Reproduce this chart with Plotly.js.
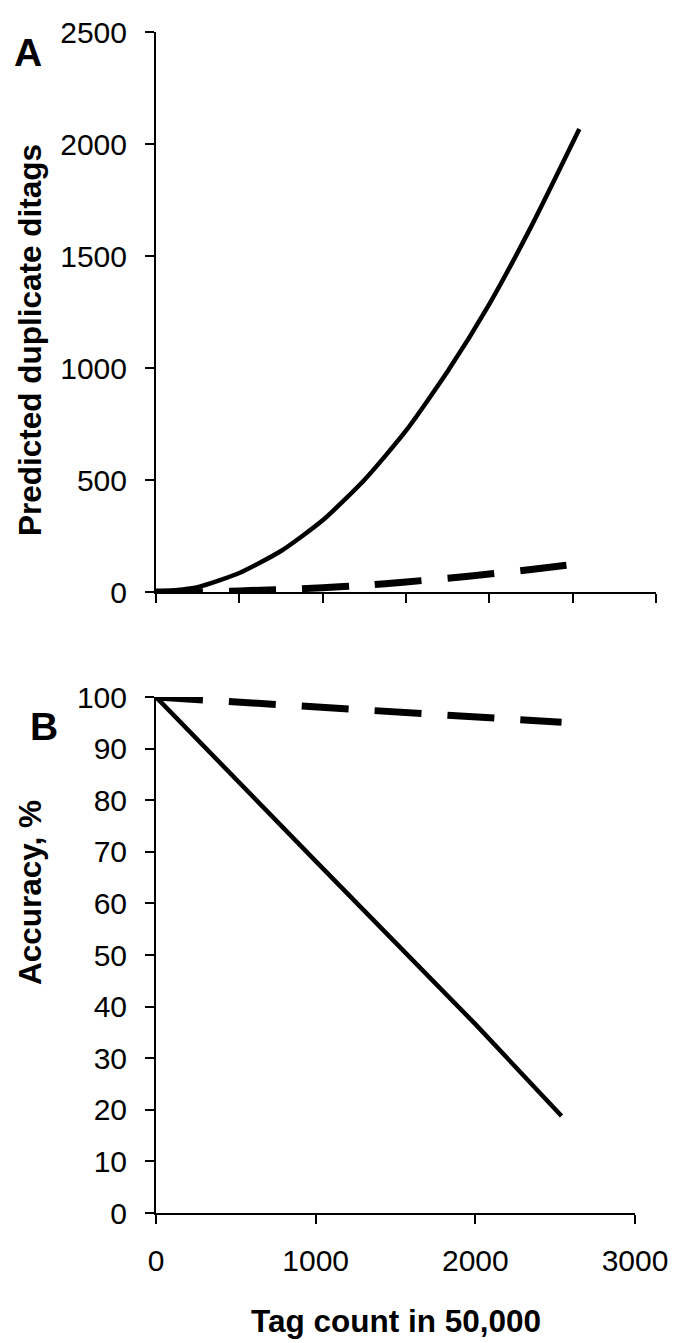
<!DOCTYPE html>
<html>
<head>
<meta charset="utf-8">
<script src="https://cdn.plot.ly/plotly-3.0.1.min.js"></script>
<style>html,body{margin:0;padding:0;background:#fff;}</style>
</head>
<body>
<div id="chart" style="width:685px;height:1343px;"></div>
<script>
// Panel A: predicted duplicate ditags
const tagCountA = [0, 250, 500, 750, 1000, 1250, 1500, 1750, 2000, 2250, 2540];
const dupSolid  = [0, 22, 85, 183, 320, 500, 720, 985, 1285, 1630, 2067];
const dupDashed = [0, 1, 5, 11, 19, 30, 45, 61, 80, 100, 127];

// Panel B: accuracy, %
const tagCountB = [0, 500, 1000, 1500, 2000, 2540];
const accSolid  = [100, 84, 68.2, 52.4, 36.6, 18.8];
const accDashed = [100, 99.1, 98.2, 97.2, 96.2, 95.1];

const yTicksA = [0, 500, 1000, 1500, 2000, 2500];
const yTicksB = [0, 10, 20, 30, 40, 50, 60, 70, 80, 90, 100];
const xTicksB = [0, 1000, 2000, 3000];

const FONT = 'Liberation Sans, Arial, Helvetica, sans-serif';
const solidLine = {color: '#000', width: 4.5};
const dashLine = {color: '#000', width: 7, dash: '47px,26px'};

const traces = [
  {x: tagCountA, y: dupSolid, mode: 'lines', line: Object.assign({shape: 'spline', smoothing: 0.6}, solidLine), xaxis: 'x', yaxis: 'y'},
  {x: tagCountA, y: dupDashed, mode: 'lines', line: Object.assign({shape: 'spline', smoothing: 0.6}, dashLine), xaxis: 'x', yaxis: 'y'},
  {x: tagCountB, y: accSolid, mode: 'lines', line: solidLine, xaxis: 'x2', yaxis: 'y2'},
  {x: tagCountB, y: accDashed, mode: 'lines', line: dashLine, xaxis: 'x2', yaxis: 'y2'}
];

const axisCommon = {
  showline: true, linecolor: '#000', linewidth: 2,
  ticks: 'outside', ticklen: 9, tickwidth: 2, tickcolor: '#000',
  showgrid: false, zeroline: false,
  tickfont: {family: FONT, size: 30, color: '#000'}
};

const W = 685, H = 1343;
const px = v => v / W;
const py = v => 1 - v / H;

const layout = {
  width: W, height: H,
  margin: {l: 0, r: 0, t: 0, b: 0},
  paper_bgcolor: '#fff', plot_bgcolor: '#fff',
  showlegend: false,
  xaxis: Object.assign({}, axisCommon, {
    domain: [px(156), px(656)], range: [0, 3000], tickmode: 'array',
    tickvals: [0, 500, 1000, 1500, 2000, 2500, 3000], showticklabels: false, anchor: 'y'
  }),
  yaxis: Object.assign({}, axisCommon, {
    domain: [py(592), py(32)], range: [0, 2500], tickmode: 'array',
    tickvals: yTicksA, ticktext: yTicksA.map(String), anchor: 'x', ticklabelstandoff: 12
  }),
  xaxis2: Object.assign({}, axisCommon, {
    domain: [px(156), px(635)], range: [0, 3000], tickmode: 'array',
    tickvals: xTicksB, ticktext: xTicksB.map(String), anchor: 'y2', ticklabelstandoff: 11
  }),
  yaxis2: Object.assign({}, axisCommon, {
    domain: [py(1213), py(697)], range: [0, 100], tickmode: 'array',
    tickvals: yTicksB, ticktext: yTicksB.map(String), anchor: 'x2', ticklabelstandoff: 12
  }),
  annotations: [
    {text: '<b>A</b>', x: px(28), y: py(52), xref: 'paper', yref: 'paper', showarrow: false,
     xanchor: 'center', yanchor: 'middle', font: {family: FONT, size: 39, color: '#000'}},
    {text: '<b>B</b>', x: px(44), y: py(726), xref: 'paper', yref: 'paper', showarrow: false,
     xanchor: 'center', yanchor: 'middle', font: {family: FONT, size: 39, color: '#000'}},
    {text: '<b>Predicted duplicate ditags</b>', x: px(30), y: py(340), xref: 'paper', yref: 'paper',
     showarrow: false, textangle: -90, xanchor: 'center', yanchor: 'middle',
     font: {family: FONT, size: 31.5, color: '#000'}},
    {text: '<b>Accuracy, %</b>', x: px(30), y: py(893), xref: 'paper', yref: 'paper',
     showarrow: false, textangle: -90, xanchor: 'center', yanchor: 'middle',
     font: {family: FONT, size: 31.5, color: '#000'}},
    {text: '<b>Tag count in 50,000</b>', x: px(396), y: py(1321), xref: 'paper', yref: 'paper',
     showarrow: false, xanchor: 'center', yanchor: 'middle',
     font: {family: FONT, size: 31.5, color: '#000'}}
  ]
};

Plotly.newPlot('chart', traces, layout, {displayModeBar: false, staticPlot: true});
</script>
</body>
</html>
